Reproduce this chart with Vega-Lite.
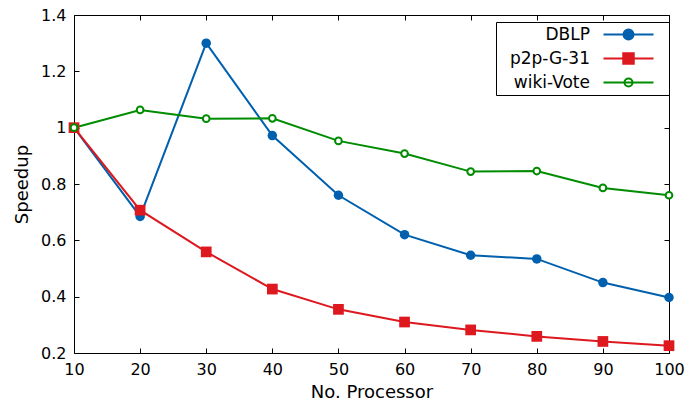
{
  "$schema": "https://vega.github.io/schema/vega-lite/v6.json",
  "width": 595,
  "height": 338,
  "autosize": {"type": "none"},
  "padding": {"left": 74, "top": 15, "right": 21, "bottom": 60},
  "config": {
    "font": "DejaVu Sans",
    "view": {"stroke": "black", "strokeWidth": 1},
    "axis": {
      "domain": false,
      "grid": false,
      "tickColor": "black",
      "tickSize": -5,
      "tickWidth": 1,
      "labelFontSize": 16,
      "labelColor": "black",
      "titleFontSize": 18,
      "titleFontWeight": "normal",
      "titleColor": "black"
    },
    "legend": {
      "orient": "none",
      "legendX": 422,
      "legendY": 7,
      "strokeColor": "black",
      "fillColor": "white",
      "padding": 4,
      "labelFontSize": 17,
      "labelColor": "black",
      "symbolStrokeWidth": 2,
      "symbolOpacity": 1,
      "symbolSize": 100,
      "rowPadding": 5,
      "labelAlign": "right",
      "labelOffset": -47,
      "symbolOffset": 120
    }
  },
  "data": {
    "values": [
      {"series": "DBLP", "p": 10, "speedup": 1.0},
      {"series": "DBLP", "p": 20, "speedup": 0.685},
      {"series": "DBLP", "p": 30, "speedup": 1.30},
      {"series": "DBLP", "p": 40, "speedup": 0.972},
      {"series": "DBLP", "p": 50, "speedup": 0.76},
      {"series": "DBLP", "p": 60, "speedup": 0.62},
      {"series": "DBLP", "p": 70, "speedup": 0.547},
      {"series": "DBLP", "p": 80, "speedup": 0.534},
      {"series": "DBLP", "p": 90, "speedup": 0.45},
      {"series": "DBLP", "p": 100, "speedup": 0.397},
      {"series": "p2p-G-31", "p": 10, "speedup": 1.0},
      {"series": "p2p-G-31", "p": 20, "speedup": 0.707},
      {"series": "p2p-G-31", "p": 30, "speedup": 0.559},
      {"series": "p2p-G-31", "p": 40, "speedup": 0.427},
      {"series": "p2p-G-31", "p": 50, "speedup": 0.355},
      {"series": "p2p-G-31", "p": 60, "speedup": 0.31},
      {"series": "p2p-G-31", "p": 70, "speedup": 0.282},
      {"series": "p2p-G-31", "p": 80, "speedup": 0.259},
      {"series": "p2p-G-31", "p": 90, "speedup": 0.241},
      {"series": "p2p-G-31", "p": 100, "speedup": 0.226},
      {"series": "wiki-Vote", "p": 10, "speedup": 1.0},
      {"series": "wiki-Vote", "p": 20, "speedup": 1.063},
      {"series": "wiki-Vote", "p": 30, "speedup": 1.032},
      {"series": "wiki-Vote", "p": 40, "speedup": 1.033},
      {"series": "wiki-Vote", "p": 50, "speedup": 0.953},
      {"series": "wiki-Vote", "p": 60, "speedup": 0.908},
      {"series": "wiki-Vote", "p": 70, "speedup": 0.844},
      {"series": "wiki-Vote", "p": 80, "speedup": 0.846},
      {"series": "wiki-Vote", "p": 90, "speedup": 0.786},
      {"series": "wiki-Vote", "p": 100, "speedup": 0.76}
    ]
  },
  "resolve": {"axis": {"x": "independent", "y": "independent"}},
  "layer": [
    {
      "mark": {"type": "line", "strokeWidth": 2},
      "encoding": {
        "x": {"field": "p", "type": "quantitative",
              "scale": {"domain": [10, 100], "nice": false, "zero": false},
              "axis": {"values": [10,20,30,40,50,60,70,80,90,100], "title": "No. Processor", "labelPadding": 13, "titlePadding": 6, "labelFlush": false}},
        "y": {"field": "speedup", "type": "quantitative",
              "scale": {"domain": [0.2, 1.4], "nice": false, "zero": false},
              "axis": {"values": [0.2,0.4,0.6,0.8,1,1.2,1.4], "format": ".1~f", "title": "Speedup", "labelPadding": 13, "titlePadding": 9, "labelFlush": false}},
        "stroke": {"field": "series", "type": "nominal",
                   "scale": {"domain": ["DBLP", "p2p-G-31", "wiki-Vote"], "range": ["#0060ad", "#dd181f", "#008c00"]}, "title": null}
      }
    },
    {
      "transform": [{"filter": "datum.series === 'DBLP'"}],
      "mark": {"type": "point", "shape": "circle", "filled": true, "size": 90, "opacity": 1},
      "encoding": {
        "x": {"field": "p", "type": "quantitative", "axis": null},
        "y": {"field": "speedup", "type": "quantitative", "axis": null},
        "fill": {"field": "series", "type": "nominal",
                 "scale": {"domain": ["DBLP", "p2p-G-31", "wiki-Vote"], "range": ["#0060ad", "#dd181f", "white"]}, "title": null}
      }
    },
    {
      "transform": [{"filter": "datum.series === 'p2p-G-31'"}],
      "mark": {"type": "point", "shape": "square", "filled": true, "size": 115, "opacity": 1},
      "encoding": {
        "x": {"field": "p", "type": "quantitative", "axis": null},
        "y": {"field": "speedup", "type": "quantitative", "axis": null},
        "fill": {"field": "series", "type": "nominal", "title": null}
      }
    },
    {
      "transform": [{"filter": "datum.series === 'wiki-Vote'"}],
      "mark": {"type": "point", "shape": "circle", "size": 45, "strokeWidth": 2, "opacity": 1},
      "encoding": {
        "x": {"field": "p", "type": "quantitative", "axis": null},
        "y": {"field": "speedup", "type": "quantitative", "axis": null},
        "fill": {"field": "series", "type": "nominal", "title": null},
        "stroke": {"field": "series", "type": "nominal", "title": null}
      }
    },
    {
      "mark": {"type": "point", "opacity": 0, "strokeWidth": 2},
      "encoding": {
        "x": {"field": "p", "type": "quantitative", "axis": null},
        "y": {"field": "speedup", "type": "quantitative", "axis": null},
        "fill": {"field": "series", "type": "nominal", "title": null},
        "stroke": {"field": "series", "type": "nominal", "title": null},
        "shape": {"field": "series", "type": "nominal", "title": null,
                  "scale": {"domain": ["DBLP", "p2p-G-31", "wiki-Vote"],
                            "range": ["M-5,0H5M1,0A1,1,0,1,1,-1,0A1,1,0,1,1,1,0ZM6.4,0",
                                      "M-5,0H5M-1.05,-1.05H1.05V1.05H-1.05ZM6.4,0",
                                      "M-5,0H5M0.8,0A0.8,0.8,0,1,1,-0.8,0A0.8,0.8,0,1,1,0.8,0ZM6.4,0"]}}
      }
    },
    {
      "mark": {"type": "point", "opacity": 0},
      "encoding": {
        "x": {"field": "p", "type": "quantitative",
              "axis": {"orient": "top", "values": [10,20,30,40,50,60,70,80,90,100], "labels": false, "title": null}},
        "y": {"field": "speedup", "type": "quantitative",
              "axis": {"orient": "right", "values": [0.2,0.4,0.6,0.8,1,1.2,1.4], "labels": false, "title": null}}
      }
    }
  ]
}
